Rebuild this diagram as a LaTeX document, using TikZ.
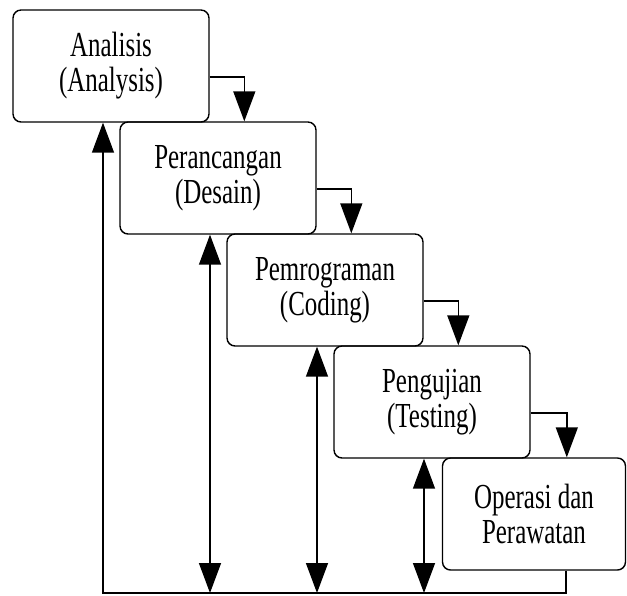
\documentclass[tikz,border=0pt]{standalone}
\usepackage{fontspec}
\newfontfamily\phasefont[FakeStretch=0.71]{Liberation Serif}
\usetikzlibrary{arrows.meta,calc}

\begin{document}
\begin{tikzpicture}[x=0.02cm,y=-0.02cm,phase/.style={shape=rectangle,draw=black,line width=0.8pt,rounded corners=0.16cm,minimum width=3.92cm,minimum height=2.24cm,inner sep=0pt,align=center,font={\phasefont\fontsize{20}{20}\selectfont}},flow/.style={line width=0.8pt,-{Triangle[length=0.6cm,width=0.44cm]}},flowb/.style={flow,{Triangle[length=0.6cm,width=0.44cm]}-{Triangle[length=0.6cm,width=0.44cm]}}]
\def\dx{107};
\def\dy{112};

\useasboundingbox (0,0) rectangle (627,596);

\node[phase] (analisis) at (111,66) {Analisis\\(Analysis)};
\node[phase] (desain) at (111+\dx,66+\dy) {Perancangan\\(Desain)};
\node[phase] (coding) at (111+2*\dx,66+2*\dy) {Pemrograman\\(Coding)};
\node[phase] (testing) at (111+3*\dx,66+3*\dy) {Pengujian\\(Testing)};
\node[phase,minimum width=3.66cm] (operasi) at (111+4*\dx-5,66+4*\dy) {Operasi dan\\Perawatan};

\draw[flow] ($(analisis.east)+(0,11)$) -| ($(desain.north west)+(125,0)$);
\draw[flow] ($(desain.east)+(0,11)$) -| ($(coding.north west)+(125,0)$);
\draw[flow] ($(coding.east)+(0,11)$) -| ($(testing.north west)+(125,0)$);
\draw[flow] ($(testing.east)+(0,11)$) -| ($(operasi.north west)+(125,0)$);

\coordinate (base) at (0,593);
\coordinate (afoot) at ($(analisis.south)+(-8,0)$);
\coordinate (ofoot) at ($(operasi.south west)+(124,0)$);
\draw[flow] (ofoot) -- (ofoot |- base) -- (afoot |- base) -- (afoot);
\foreach \n in {desain,coding,testing}{
  \coordinate (\n-foot) at ($(\n.south)+(-8,0)$);
  \draw[flowb] (\n-foot) -- (\n-foot |- base);
}
\end{tikzpicture}
\end{document}
